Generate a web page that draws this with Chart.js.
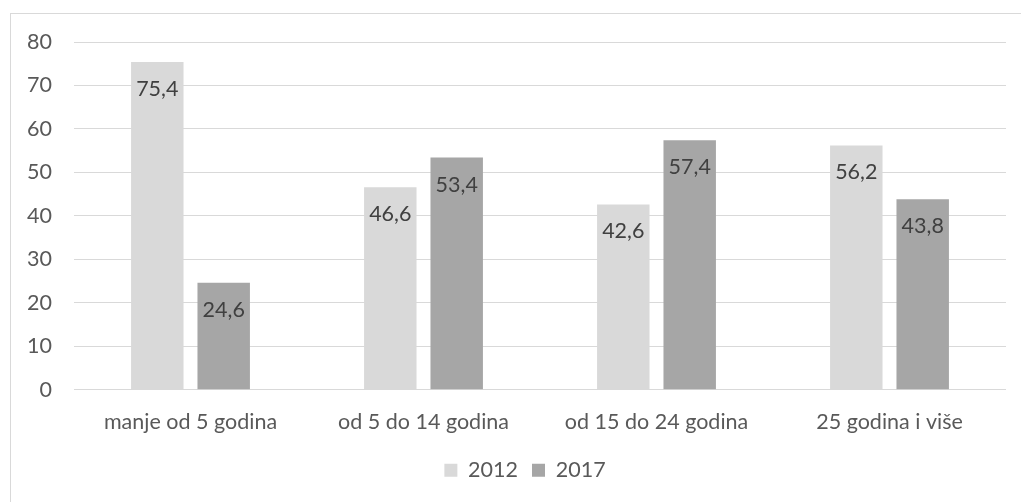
<!DOCTYPE html>
<html>
<head>
<meta charset="utf-8">
<script src="https://cdn.jsdelivr.net/npm/chart.js@4"></script>
<style>
  html, body { margin: 0; padding: 0; background: #fff; }
  #wrap { position: relative; width: 1021px; height: 502px; }
</style>
</head>
<body>
<div id="wrap"><canvas id="c"></canvas></div>
<script>
// podaci
const categories = ['manje od 5 godina', 'od 5 do 14 godina', 'od 15 do 24 godina', '25 godina i više'];
const values2012 = [75.4, 46.6, 42.6, 56.2];
const values2017 = [24.6, 53.4, 57.4, 43.8];
const seriesNames = ['2012', '2017'];

const FONT = 'Lato, "Open Sans", sans-serif';
const TEXT = '#595959';
const SIZE = 21.5;

// okvir oko grafikona
const frame = {
  id: 'frame',
  beforeDraw(chart) {
    const ctx = chart.ctx;
    ctx.save();
    ctx.strokeStyle = '#d9d9d9';
    ctx.lineWidth = 1;
    ctx.strokeRect(10.5, 13.5, 1040, 540);
    ctx.restore();
  }
};

// legenda je u originalu malo pomaknuta udesno
const legendShift = {
  id: 'legendShift',
  afterLayout(chart) {
    if (chart.legend) chart.legend.left += 44;
  }
};

// oznake vrijednosti unutar stupaca
const valueLabels = {
  id: 'valueLabels',
  afterDatasetsDraw(chart) {
    const ctx = chart.ctx;
    ctx.save();
    ctx.font = SIZE + 'px ' + FONT;
    ctx.fillStyle = '#404040';
    ctx.textAlign = 'center';
    ctx.textBaseline = 'middle';
    chart.data.datasets.forEach(function(ds, i) {
      chart.getDatasetMeta(i).data.forEach(function(bar, j) {
        ctx.fillText(String(ds.data[j]).replace('.', ','), bar.x, bar.y + 27);
      });
    });
    ctx.restore();
  }
};

new Chart(document.getElementById('c'), {
  type: 'bar',
  data: {
    labels: categories,
    datasets: [
      { label: seriesNames[0], data: values2012, backgroundColor: '#d9d9d9' },
      { label: seriesNames[1], data: values2017, backgroundColor: '#a6a6a6' }
    ]
  },
  options: {
    responsive: true,
    maintainAspectRatio: false,
    animation: false,
    devicePixelRatio: 1,
    categoryPercentage: 0.57,
    barPercentage: 0.79,
    layout: { padding: { top: 42, right: 15, bottom: 11, left: 0 } },
    plugins: {
      tooltip: { enabled: false },
      legend: {
        position: 'bottom',
        labels: {
          font: { family: FONT, size: SIZE },
          color: TEXT,
          boxWidth: 13,
          boxHeight: 13,
          padding: 14
        }
      }
    },
    scales: {
      x: {
        grid: { display: false },
        border: { display: false },
        ticks: { font: { family: FONT, size: SIZE }, color: TEXT, padding: 11 }
      },
      y: {
        min: 0,
        max: 80,
        afterFit(scale) { scale.width = 74; },
        grid: { color: '#d9d9d9', lineWidth: 1, drawTicks: false },
        border: { display: false },
        ticks: { stepSize: 10, font: { family: FONT, size: SIZE }, color: TEXT, padding: 22 }
      }
    }
  },
  plugins: [frame, legendShift, valueLabels]
});
</script>
</body>
</html>
